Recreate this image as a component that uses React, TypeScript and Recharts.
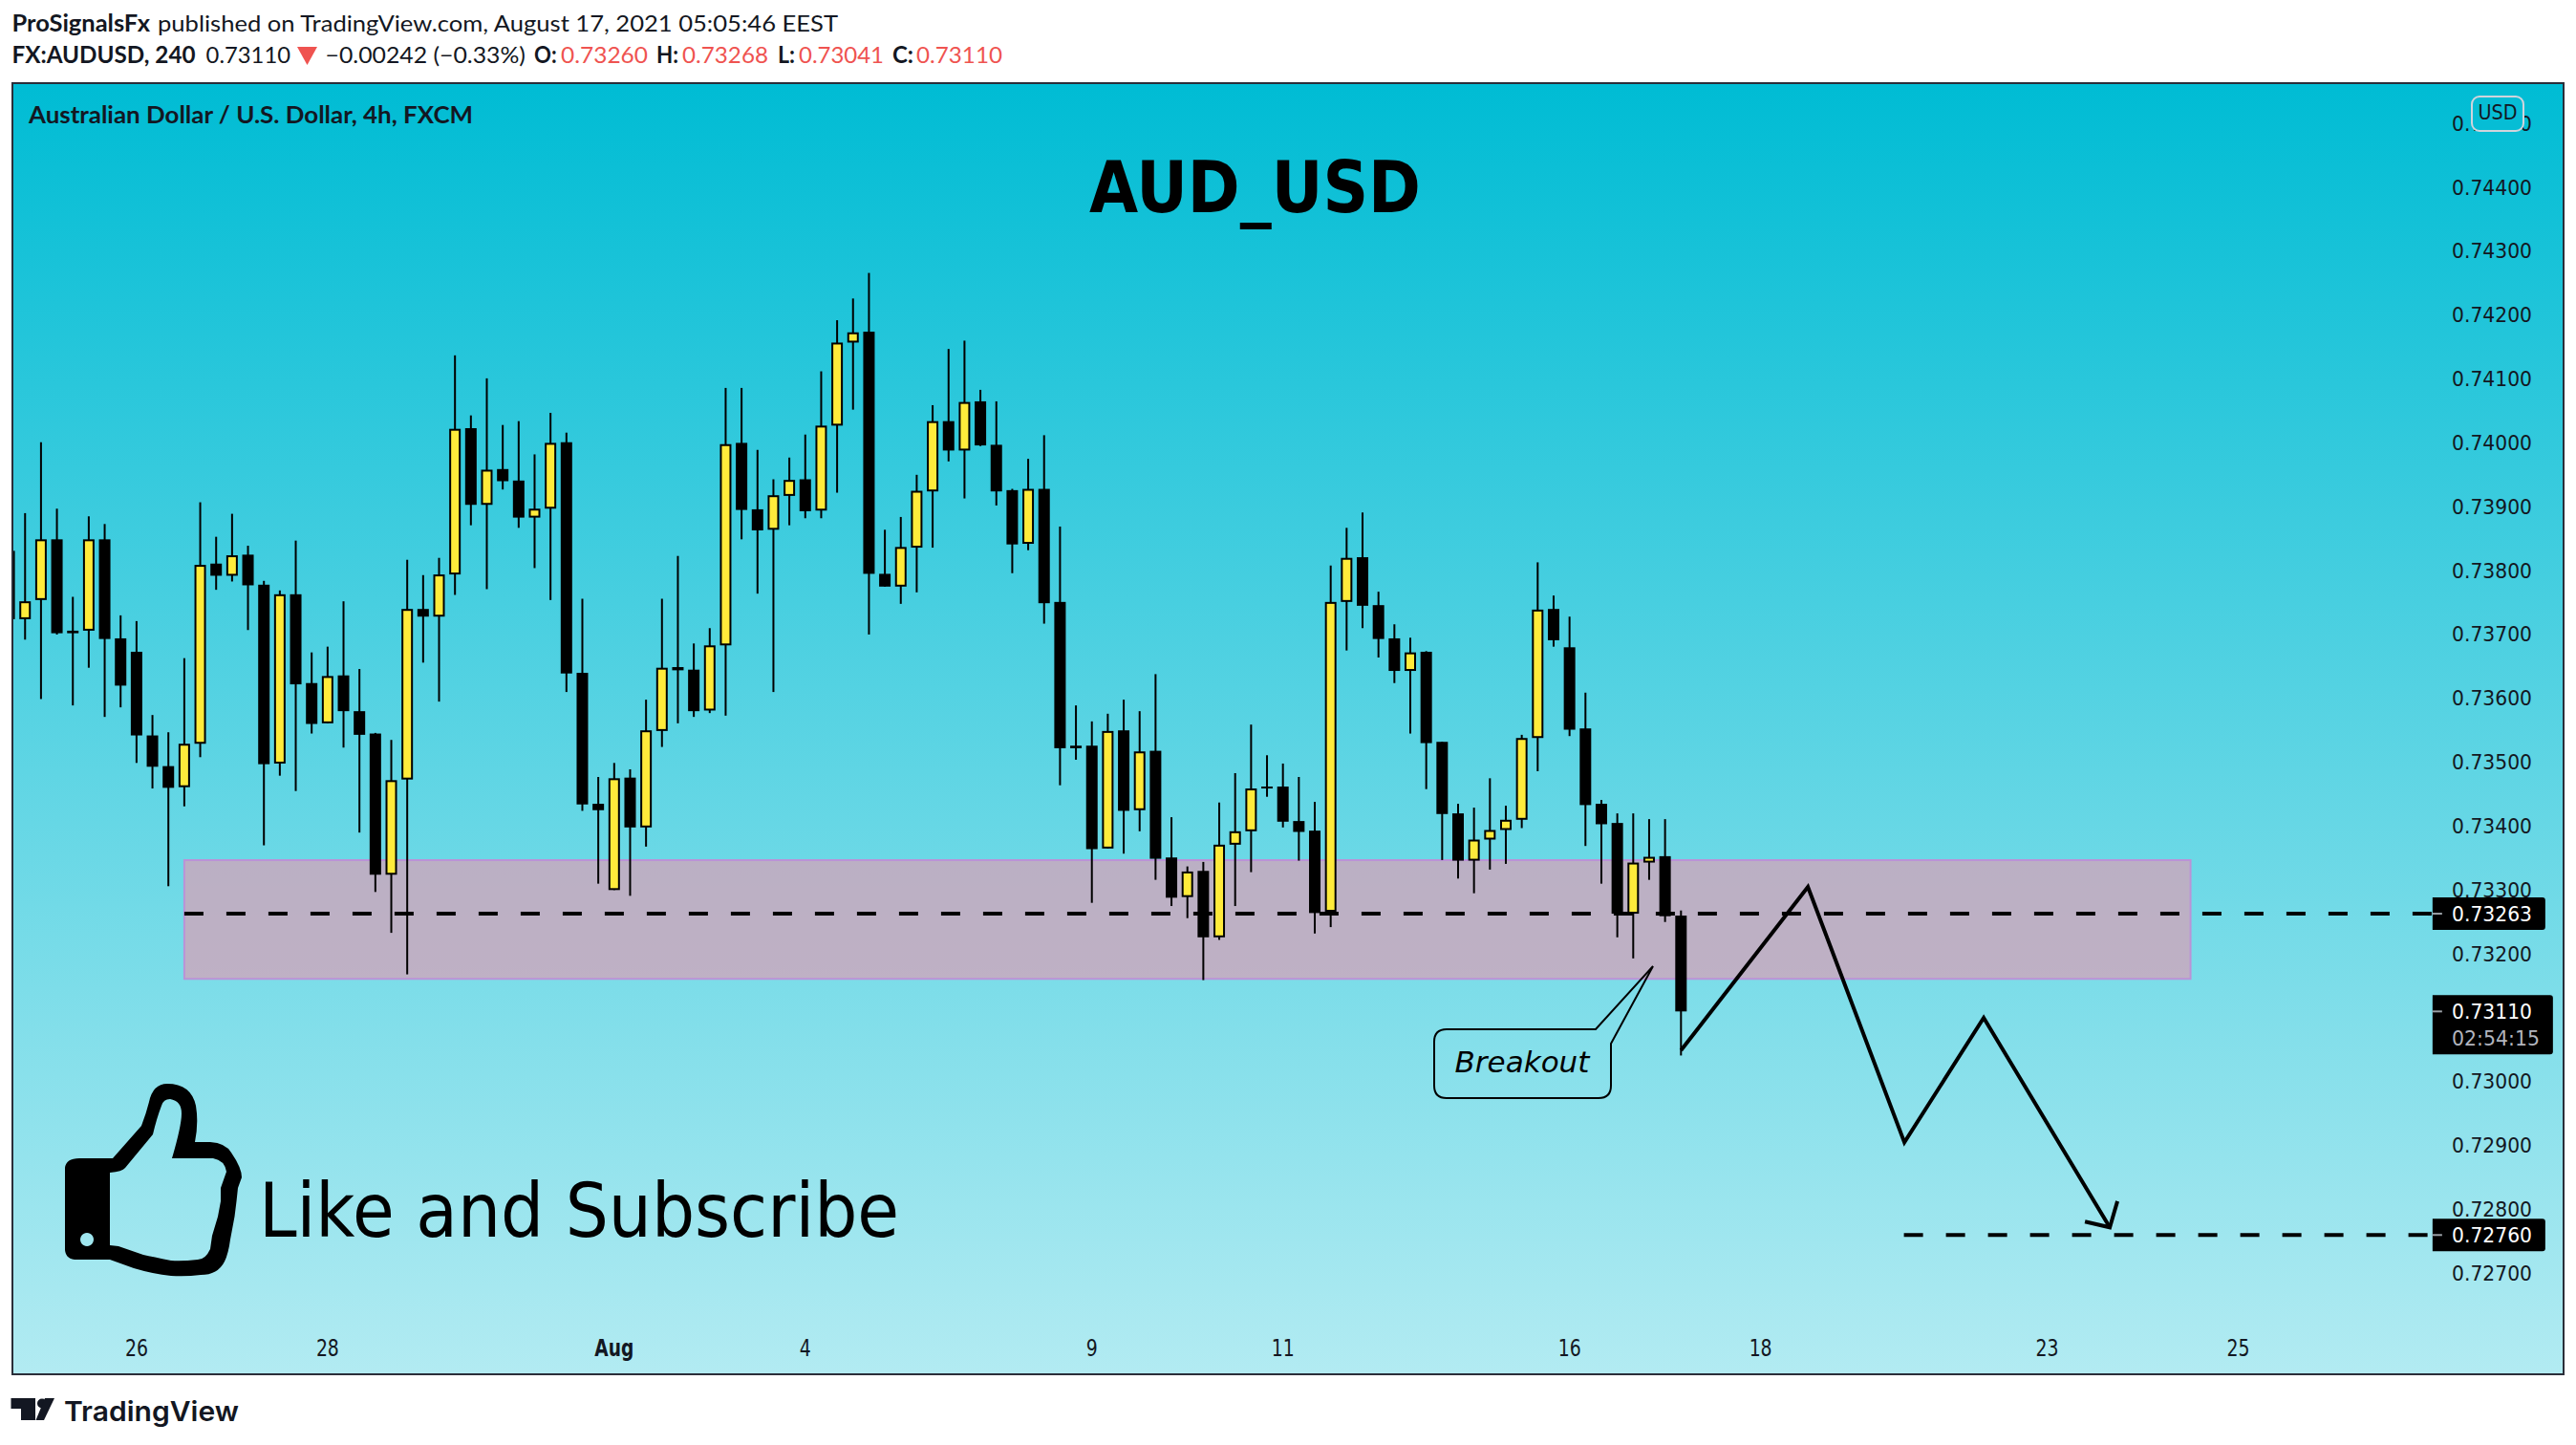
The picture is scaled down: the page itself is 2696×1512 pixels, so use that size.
import React from "react";
import { ComposedChart, Bar, Line, XAxis, YAxis, ReferenceArea, ReferenceDot } from "recharts";

const highsE5 = [
  73831,73890,74001,73897,73759,73885,73873,73730,73721,73574,
  73547,73663,73907,73853,73889,73839,73784,73769,73847,73672,
  73681,73752,73646,73546,73535,73817,73793,73820,74137,74043,
  74101,74028,74034,73982,74047,74016,73756,73477,73499,73489,
  73598,73756,73823,73686,73710,74086,74086,73989,73943,73977,
  74013,74112,74192,74226,74266,73864,73884,73950,74059,74147,
  74160,74083,74065,73928,73975,74012,73869,73589,73564,73576,
  73598,73580,73638,73414,73337,73344,73437,73483,73559,73511,
  73498,73477,73438,73808,73867,73891,73767,73716,73695,73674,
  73532,73435,73429,73475,73432,73543,73813,73761,73728,73609,
  73441,73420,73420,73411,73411,73268,
];
const lowsE5 = [
  73724,73692,73599,73700,73589,73648,73571,73586,73499,73459,
  73306,73431,73508,73770,73783,73707,73370,73479,73455,73545,
  73561,73523,73390,73297,73233,73168,73656,73595,73762,73871,
  73771,73927,73867,73804,73754,73610,73424,73310,73300,73291,
  73368,73524,73561,73571,73577,73573,73849,73764,73610,73871,
  73882,73882,73922,74052,73700,73775,73748,73766,73836,73971,
  73913,73995,73902,73796,73832,73717,73464,73504,73280,73365,
  73357,73392,73316,73275,73256,73159,73222,73275,73328,73446,
  73398,73346,73232,73242,73675,73710,73664,73624,73545,73458,
  73347,73318,73295,73332,73341,73397,73486,73681,73541,73369,
  73310,73226,73193,73316,73250,73041,
];
const opensE5 = [
  73831,73724,73754,73849,73706,73706,73849,73694,73673,73542,
  73494,73461,73529,73811,73792,73825,73778,73498,73763,73624,
  73561,73636,73580,73545,73324,73473,73740,73728,73794,74023,
  73903,73959,73941,73883,73897,74001,73640,73435,73300,73476,
  73398,73549,73649,73645,73581,73683,74000,73896,73864,73917,
  73943,73894,74027,74157,74174,73795,73775,73836,73924,74034,
  73988,74065,73997,73926,73842,73928,73751,73526,73526,73365,
  73550,73425,73518,73351,73289,73330,73226,73371,73392,73462,
  73462,73408,73393,73266,73751,73821,73746,73694,73643,73673,
  73532,73420,73346,73379,73394,73410,73538,73740,73680,73553,
  73435,73405,73263,73343,73353,73260,
];
const closesE5 = [
  73724,73752,73849,73702,73702,73849,73693,73620,73542,73493,
  73460,73529,73809,73792,73824,73777,73497,73763,73622,73560,
  73635,73580,73543,73324,73472,73740,73728,73794,74022,73903,
  73958,73940,73883,73897,74000,73639,73434,73425,73475,73398,
  73550,73648,73644,73580,73683,73998,73895,73863,73918,73942,
  73893,74027,74157,74173,73795,73775,73837,73925,74034,73988,
  74064,73996,73924,73841,73928,73749,73522,73522,73364,73549,
  73424,73517,73349,73288,73329,73226,73371,73392,73459,73459,
  73407,73391,73264,73751,73820,73745,73693,73643,73672,73530,
  73419,73346,73379,73394,73410,73538,73739,73691,73551,73433,
  73403,73263,73343,73352,73259,73110,
];

const priceTicks = [0.727,0.728,0.729,0.73,0.732,0.733,0.734,0.735,0.736,0.737,0.738,0.739,0.74,0.741,0.742,0.743,0.744,0.745];
const timeTicks = [8, 20, 38, 50, 68, 80, 98, 110, 128, 140];
const timeLabels = ["26", "28", "Aug", "4", "9", "11", "16", "18", "23", "25"];

const supportZone = { from: 11, to: 137, low: 0.73161, high: 0.73347 };
const supportLevel = [{ i: 11, v: 0.73263 }, { i: 152.2, v: 0.73263 }];
const targetLevel = [{ i: 119, v: 0.7276 }, { i: 152.2, v: 0.7276 }];
const projection = [
  { i: 105, v: 0.73049 }, { i: 112.97, v: 0.73305 }, { i: 119.03, v: 0.72905 },
  { i: 124.01, v: 0.731 }, { i: 131.93, v: 0.72772 },
];
const arrowHead = [{ i: 130.37, v: 0.72781 }, { i: 131.93, v: 0.72772 }, { i: 132.41, v: 0.72813 }];

const rows = highsE5.map((h, i) => ({
  i,
  range: [lowsE5[i] / 1e5, h / 1e5],
  open: opensE5[i] / 1e5,
  close: closesE5[i] / 1e5,
}));

const INK = "#131722";
const RED = "#ef5350";
const AXIS_FONT = "'DejaVu Sans'";
const HEAD_FONT = "Lato";

function Candle(props: any) {
  const { x, y, width, height, payload } = props;
  const [lo, hi] = payload.range;
  const k = height / (hi - lo);
  const top = y + (hi - Math.max(payload.open, payload.close)) * k;
  const bot = y + (hi - Math.min(payload.open, payload.close)) * k;
  const up = payload.close > payload.open;
  const cx = x + width / 2;
  return (
    <g>
      <rect x={cx - 1} y={y} width={2} height={height} fill="#000" />
      {up ? (
        <rect x={cx - 5} y={top + 1} width={10} height={Math.max(bot - top - 2, 0.5)} fill="#ffeb3b" stroke="#000" strokeWidth={2} />
      ) : (
        <rect x={cx - 6} y={top} width={12} height={Math.max(bot - top, 2)} fill="#000" />
      )}
    </g>
  );
}

function PriceTick(props: any) {
  const { y, payload } = props;
  return (
    <text x={2566} y={y} textLength={84} lengthAdjust="spacingAndGlyphs" dominantBaseline="central" fontFamily={AXIS_FONT} fontSize={22} fill={INK}>
      {Number(payload.value).toFixed(5)}
    </text>
  );
}

function TimeTick(props: any) {
  const { x, payload } = props;
  const label = timeLabels[timeTicks.indexOf(payload.value)];
  const w = label === "Aug" ? 41 : label.length * 12;
  return (
    <text x={x - w / 2} y={1411} textLength={w} lengthAdjust="spacingAndGlyphs" dominantBaseline="central" fontFamily={AXIS_FONT} fontSize={24}
      fontWeight={label === "Aug" ? 700 : 400} fill={INK}>
      {label}
    </text>
  );
}

function PriceTag(props: any) {
  const { cx, cy, value, countdown } = props;
  const w = countdown ? 126 : 118;
  const top = cy - 17;
  const h = countdown ? 62 : 34;
  return (
    <g>
      <path d={`M${cx} ${top}H${cx + w - 3}a3 3 0 0 1 3 3V${top + h - 3}a3 3 0 0 1 -3 3H${cx}Z`} fill="#000" />
      <rect x={cx} y={cy - 1} width={10} height={2} fill="#9aa0a6" />
      <text x={2566} y={cy} textLength={84} lengthAdjust="spacingAndGlyphs" dominantBaseline="central" fontFamily={AXIS_FONT} fontSize={22} fill="#fff">{value}</text>
      {countdown ? (
        <text x={2566} y={cy + 28} textLength={92} lengthAdjust="spacingAndGlyphs" dominantBaseline="central" fontFamily={AXIS_FONT} fontSize={22} fill="#b2b5be">{countdown}</text>
      ) : null}
    </g>
  );
}

function Run({ x, y, w, bold, fill, children }: any) {
  return (
    <text x={x} y={y} textLength={w} lengthAdjust="spacingAndGlyphs" fontFamily={HEAD_FONT} fontSize={24}
      fontWeight={bold ? 700 : 400} fill={fill || INK}>
      {children}
    </text>
  );
}

export default function App() {
  return (
    <div style={{ position: "absolute", left: 0, top: 0, width: 2696, height: 1512, background: "#fff", overflow: "hidden" }}>
      <div style={{ position: "absolute", left: 14, top: 88, width: 2668, height: 1349, background: "linear-gradient(180deg,#00bcd4 0%,#b2ebf2 100%)" }} />
      <div style={{ position: "absolute", left: 12, top: 86, width: 2668, height: 1349, border: "2px solid #2a2e39" }} />
      <div style={{ position: "absolute", left: 0, top: 0 }}>
        <ComposedChart width={2696} height={1512} data={rows} margin={{ top: 88, left: 14, right: 13, bottom: 74 }}>
          <XAxis dataKey="i" type="number" domain={[0.264, 160.37]} allowDataOverflow ticks={timeTicks} interval={0}
            axisLine={false} tickLine={false} height={1} tick={<TimeTick />} />
          <YAxis type="number" orientation="right" domain={[0.725435, 0.745616]} allowDataOverflow ticks={priceTicks} interval={0}
            axisLine={false} tickLine={false} width={1} tick={<PriceTick />} />
          <ReferenceArea x1={supportZone.from} x2={supportZone.to} y1={supportZone.low} y2={supportZone.high}
            fill="rgb(214,162,184)" fillOpacity={0.75} stroke="#ba93d7" strokeWidth={2} ifOverflow="visible" />
          <Line data={supportLevel} dataKey="v" stroke="#000" strokeWidth={4} strokeDasharray="20 24" dot={false} activeDot={false} isAnimationActive={false} legendType="none" />
          <Line data={targetLevel} dataKey="v" stroke="#000" strokeWidth={4} strokeDasharray="20 24" dot={false} activeDot={false} isAnimationActive={false} legendType="none" />
          <Bar dataKey="range" barSize={12} shape={<Candle />} isAnimationActive={false} />
          <Line data={projection} dataKey="v" stroke="#000" strokeWidth={4} dot={false} activeDot={false} isAnimationActive={false} legendType="none" />
          <Line data={arrowHead} dataKey="v" stroke="#000" strokeWidth={4} dot={false} activeDot={false} isAnimationActive={false} legendType="none" />
          <ReferenceDot x={152.2} y={0.73263} ifOverflow="visible" shape={(p: any) => <PriceTag cx={p.cx} cy={p.cy} value="0.73263" />} />
          <ReferenceDot x={152.2} y={0.7311} ifOverflow="visible" shape={(p: any) => <PriceTag cx={p.cx} cy={p.cy} value="0.73110" countdown="02:54:15" />} />
          <ReferenceDot x={152.2} y={0.7276} ifOverflow="visible" shape={(p: any) => <PriceTag cx={p.cx} cy={p.cy} value="0.72760" />} />
        </ComposedChart>
      </div>
      <svg width={2696} height={1512} style={{ position: "absolute", left: 0, top: 0, pointerEvents: "none" }}>
        <Run x={12.5} y={33} w={144.5} bold>ProSignalsFx</Run>
        <Run x={165} y={33} w={712}>published on TradingView.com, August 17, 2021 05:05:46 EEST</Run>
        <Run x={12.5} y={66} w={192} bold>FX:AUDUSD, 240</Run>
        <Run x={215.6} y={66} w={88.4}>0.73110</Run>
        <path d="M311 49H332L321.5 68Z" fill={RED} />
        <Run x={340.6} y={66} w={209.4}>−0.00242 (−0.33%)</Run>
        <Run x={559} y={66} w={23.6} bold>O:</Run>
        <Run x={587} y={66} w={91} fill={RED}>0.73260</Run>
        <Run x={687} y={66} w={23} bold>H:</Run>
        <Run x={714} y={66} w={90} fill={RED}>0.73268</Run>
        <Run x={814} y={66} w={18} bold>L:</Run>
        <Run x={836} y={66} w={89} fill={RED}>0.73041</Run>
        <Run x={934} y={66} w={22} bold>C:</Run>
        <Run x={959} y={66} w={90} fill={RED}>0.73110</Run>
        <Run x={30} y={129} w={465} bold>Australian Dollar / U.S. Dollar, 4h, FXCM</Run>

        <text x={1140} y={222} textLength={347} lengthAdjust="spacingAndGlyphs" fontFamily={AXIS_FONT} fontWeight={700} fontSize={74} fill="#000">AUD_USD</text>
        <text x={271} y={1294} textLength={670} lengthAdjust="spacingAndGlyphs" fontFamily={AXIS_FONT} fontSize={79} fill="#000">Like and Subscribe</text>

        <rect x={2587} y={101} width={54} height={36} rx={8} fill="#06bdd5" stroke="#d1d4dc" strokeWidth={2} />
        <text x={2593.5} y={118} textLength={41} lengthAdjust="spacingAndGlyphs" dominantBaseline="central" fontFamily={AXIS_FONT} fontSize={21} fill={INK}>USD</text>

        <path d="M1514 1077H1670L1730 1011L1686 1092V1136Q1686 1149 1673 1149H1514Q1501 1149 1501 1136V1090Q1501 1077 1514 1077Z" fill="none" stroke="#000" strokeWidth={2} />
        <text x={1593} y={1111} textAnchor="middle" dominantBaseline="central" fontFamily={AXIS_FONT} fontStyle="italic" fontSize={31} fill="#000">Breakout</text>

        <path fillRule="evenodd" fill="#000" d="M68 1222Q69 1212 83 1212H118L148 1178Q153 1165 156 1153Q160 1134 175 1134Q200 1134 205 1157Q208 1175 204 1195H220Q236 1196 242 1206Q253 1222 253 1232L249 1243L247.5 1257L245.5 1273L241 1297Q239 1312 235 1320Q228 1334 210 1334Q195 1336 179 1335Q160 1333 140 1327L115 1318H83Q69 1319 68 1308Z
          M115 1227Q128 1226 131 1222L160 1187Q164 1170 169 1157Q171 1150 178 1150Q190 1152 190 1165Q190 1178 180 1212H223Q235 1214 237 1226L231 1243L231 1257L228 1273L222 1293L220 1307Q215 1318 207 1318Q190 1320 179 1319Q160 1315 150 1313L124 1304L115 1303Z
          M91 1290a7 7 0 1 0 0.01 0Z" />

        <path d="M11.5 1463H37V1486H22V1474H11.5Z" fill={INK} />
        <circle cx={44} cy={1468.5} r={5} fill={INK} />
        <path d="M46 1486L57 1463H47L37.5 1486Z" fill={INK} />
        <text x={67} y={1487} textLength={183} lengthAdjust="spacingAndGlyphs" fontFamily="Inter" fontWeight={600} fontSize={29} fill={INK}>TradingView</text>
      </svg>
    </div>
  );
}
